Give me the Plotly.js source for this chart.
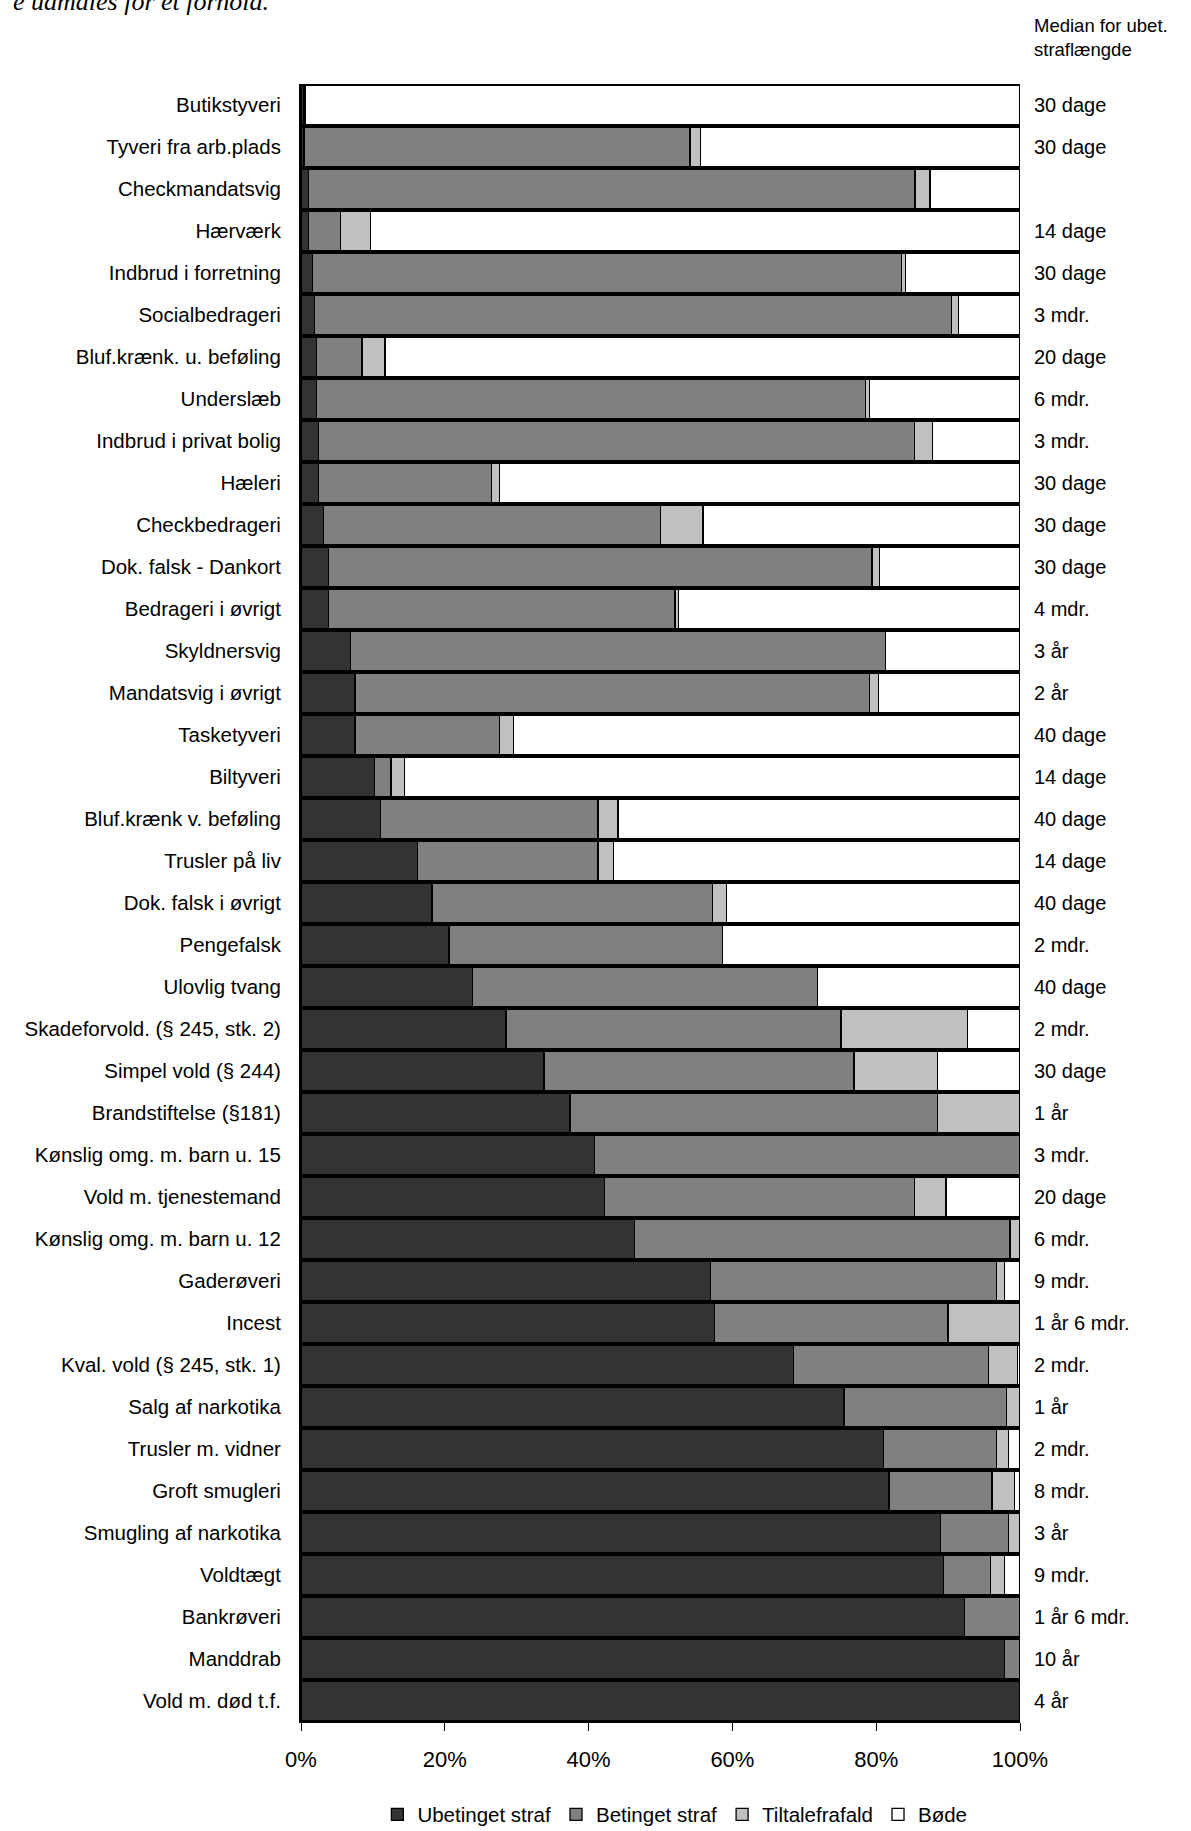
<!DOCTYPE html>
<html>
<head>
<meta charset="utf-8">
<script src="https://cdn.plot.ly/plotly-3.0.1.min.js"></script>
<style>
  html, body { margin: 0; padding: 0; background: #ffffff; }
  #chart { width: 1191px; height: 1831px; }
</style>
</head>
<body>
<div id="chart"></div>
<script>
const categories = [
  "Butikstyveri", "Tyveri fra arb.plads", "Checkmandatsvig", "Hærværk",
  "Indbrud i forretning", "Socialbedrageri", "Bluf.krænk. u. beføling", "Underslæb",
  "Indbrud i privat bolig", "Hæleri", "Checkbedrageri", "Dok. falsk - Dankort",
  "Bedrageri i øvrigt", "Skyldnersvig", "Mandatsvig i øvrigt", "Tasketyveri",
  "Biltyveri", "Bluf.krænk v. beføling", "Trusler på liv", "Dok. falsk i øvrigt",
  "Pengefalsk", "Ulovlig tvang", "Skadeforvold. (§ 245, stk. 2)", "Simpel vold (§ 244)",
  "Brandstiftelse (§181)", "Kønslig omg. m. barn u. 15", "Vold m. tjenestemand",
  "Kønslig omg. m. barn u. 12", "Gaderøveri", "Incest", "Kval. vold (§ 245, stk. 1)",
  "Salg af narkotika", "Trusler m. vidner", "Groft smugleri", "Smugling af narkotika",
  "Voldtægt", "Bankrøveri", "Manddrab", "Vold m. død t.f."
];

const ubetinget = [0.4, 0.4, 1.0, 1.0, 1.6, 1.9, 2.2, 2.2, 2.4, 2.4, 3.1, 3.8, 3.8, 6.9, 7.5, 7.5,
  10.2, 11.1, 16.2, 18.2, 20.6, 23.9, 28.5, 33.8, 37.4, 40.8, 42.2, 46.4, 57.0, 57.5, 68.5,
  75.5, 81.0, 81.8, 88.9, 89.4, 92.3, 97.8, 100];

const betinget = [0.1, 53.7, 84.4, 4.5, 81.9, 88.6, 6.3, 76.3, 82.9, 24.1, 46.9, 75.6, 48.2, 74.4,
  71.6, 20.1, 2.3, 30.2, 25.1, 39.0, 38.0, 47.9, 46.6, 43.1, 51.1, 59.2, 43.1, 52.2, 39.7, 32.5,
  27.1, 22.6, 15.7, 14.3, 9.5, 6.5, 7.7, 2.2, 0];

const tiltalefrafald = [0.1, 1.5, 2.1, 4.2, 0.6, 0.9, 3.2, 0.6, 2.5, 1.1, 5.9, 1.1, 0.5, 0, 1.2,
  2.0, 1.9, 2.8, 2.2, 2.0, 0, 0, 17.6, 11.6, 11.5, 0, 4.4, 1.4, 1.1, 10.0, 4.1, 1.9, 1.7, 3.1,
  1.6, 1.9, 0, 0, 0];

const boede = [99.4, 44.4, 12.5, 90.3, 15.9, 8.6, 88.3, 20.9, 12.2, 72.4, 44.1, 19.5, 47.5, 18.7,
  19.7, 70.4, 85.6, 55.9, 56.5, 40.8, 41.4, 28.2, 7.3, 11.5, 0, 0, 10.3, 0, 2.2, 0, 0.3, 0, 1.6,
  0.8, 0, 2.2, 0, 0, 0];

const medianer = ["30 dage", "30 dage", "", "14 dage", "30 dage", "3 mdr.", "20 dage", "6 mdr.",
  "3 mdr.", "30 dage", "30 dage", "30 dage", "4 mdr.", "3 år", "2 år", "40 dage", "14 dage",
  "40 dage", "14 dage", "40 dage", "2 mdr.", "40 dage", "2 mdr.", "30 dage", "1 år", "3 mdr.",
  "20 dage", "6 mdr.", "9 mdr.", "1 år 6 mdr.", "2 mdr.", "1 år", "2 mdr.", "8 mdr.", "3 år",
  "9 mdr.", "1 år 6 mdr.", "10 år", "4 år"];

const seriesNames = ["Ubetinget straf", "Betinget straf", "Tiltalefrafald", "Bøde"];
const seriesColors = ["#333333", "#808080", "#c0c0c0", "#ffffff"];
const xTicks = [0, 20, 40, 60, 80, 100];
const medianHeader = "Median for ubet.<br>straflængde";
const topText = "e udmåles for et forhold.";

const FONT = "Liberation Sans, Arial, sans-serif";
const seriesData = [ubetinget, betinget, tiltalefrafald, boede];

const traces = seriesData.map((vals, i) => ({
  type: "bar",
  orientation: "h",
  name: seriesNames[i],
  y: categories,
  x: vals,
  marker: { color: seriesColors[i], line: { color: "#000000", width: 1.3 } },
  hoverinfo: "skip"
}));

const annotations = medianer.map((txt, i) => ({
  xref: "paper", yref: "y",
  x: 1, y: categories[i],
  xanchor: "left", yanchor: "middle",
  xshift: 12,
  text: txt,
  showarrow: false,
  align: "left",
  font: { family: FONT, size: 20, color: "#000000" }
}));

annotations.push({
  xref: "paper", yref: "paper",
  x: 1, y: 1, xshift: 12, yshift: 22,
  xanchor: "left", yanchor: "bottom",
  text: medianHeader, showarrow: false, align: "left",
  font: { family: FONT, size: 18.5, color: "#000000" }
});

annotations.push({
  xref: "paper", yref: "paper",
  x: 0, y: 1, xshift: -30, yshift: 66,
  xanchor: "right", yanchor: "bottom",
  text: "<i>" + topText + "</i>", showarrow: false, align: "right",
  font: { family: "Liberation Serif, Times New Roman, serif", size: 26, color: "#000000" }
});

const layout = {
  width: 1191,
  height: 1831,
  margin: { l: 301, r: 171, t: 84, b: 109, pad: 0, autoexpand: false },
  paper_bgcolor: "#ffffff",
  plot_bgcolor: "#ffffff",
  barmode: "stack",
  bargap: 0.05,
  showlegend: true,
  font: { family: FONT, size: 20, color: "#000000" },
  xaxis: {
    range: [0, 100],
    tickvals: xTicks,
    ticktext: xTicks.map(v => v + "%"),
    ticks: "outside",
    ticklen: 8,
    tickwidth: 1,
    tickcolor: "#000000",
    ticklabelstandoff: 10,
    showgrid: false,
    zeroline: false,
    showline: true,
    linecolor: "#000000",
    linewidth: 1,
    automargin: false,
    tickfont: { family: FONT, size: 22, color: "#000000" },
    fixedrange: true
  },
  yaxis: {
    type: "category",
    autorange: "reversed",
    ticks: "",
    showgrid: false,
    zeroline: false,
    showline: true,
    linecolor: "#000000",
    linewidth: 2,
    automargin: false,
    ticklabelstandoff: 14,
    tickfont: { family: FONT, size: 20.5, color: "#000000" },
    fixedrange: true
  },
  legend: {
    orientation: "h",
    x: 0.52, xanchor: "center",
    y: -0.0565, yanchor: "middle",
    traceorder: "normal",
    font: { family: FONT, size: 20.5, color: "#000000" },
    itemwidth: 30,
    bgcolor: "rgba(0,0,0,0)"
  },
  annotations: annotations
};

Plotly.newPlot("chart", traces, layout, { displayModeBar: false, staticPlot: true });
</script>
</body>
</html>
